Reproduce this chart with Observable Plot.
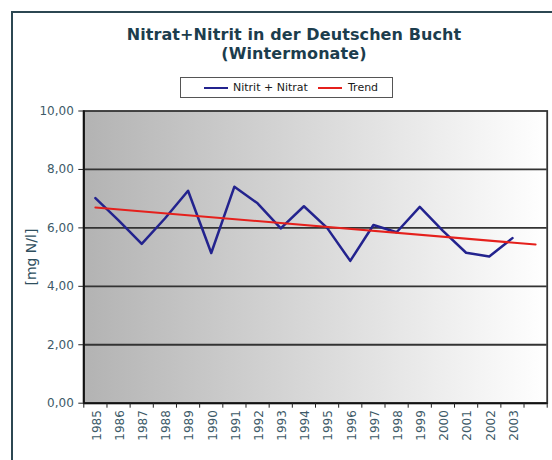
<!DOCTYPE html>
<html><head><meta charset="utf-8">
<script src="https://cdn.jsdelivr.net/npm/d3@7"></script>
<script src="https://cdn.jsdelivr.net/npm/@observablehq/plot@0.6"></script>
<style>
body{margin:0;background:#fff;}
#wrap{position:relative;width:552px;height:460px;overflow:hidden;font-family:"DejaVu Sans",sans-serif;}
#frame{position:absolute;left:11px;top:11px;width:600px;height:500px;border-left:2px solid #2c4752;border-top:2px solid #2c4752;}
.title{position:absolute;left:94px;width:400px;text-align:center;font-weight:bold;font-size:16px;line-height:18.6px;height:18.6px;color:#1c3d4d;letter-spacing:0.1px;white-space:nowrap;}
#legend{position:absolute;left:180px;top:77px;width:213px;height:21px;box-sizing:border-box;border:1px solid #555;background:#fff;font-size:11px;color:#1a1a1a;}
#legend .sw{position:absolute;top:9px;width:24px;height:2px;}
#legend .lb{position:absolute;top:3px;line-height:13px;white-space:nowrap;}
#chart{position:absolute;left:0;top:100px;}
</style>
</head><body>
<div id="wrap">
  <div id="frame"></div>
  <div id="t1" class="title" style="top:26.2px"></div>
  <div id="t2" class="title" style="top:44.8px"></div>
  <div id="legend"></div>
  <div id="chart"></div>
</div>
<script>
const titleText = ["Nitrat+Nitrit in der Deutschen Bucht", "(Wintermonate)"];
const seriesNames = ["Nitrit + Nitrat", "Trend"];
const seriesColors = ["#23238e", "#e5201c"];
const years = [1985,1986,1987,1988,1989,1990,1991,1992,1993,1994,1995,1996,1997,1998,1999,2000,2001,2002,2003];
const values = [7.02,6.26,5.45,6.32,7.27,5.14,7.41,6.84,5.98,6.74,6.00,4.87,6.10,5.85,6.72,5.90,5.15,5.02,5.65];
const trendYears = [1985, 2004];
const trendValues = [6.70, 5.43];
const yTicks = [0,2,4,6,8,10];
const gridValues = [2,4,6,8];
const yLabel = "[mg N/l]";

document.getElementById("t1").textContent = titleText[0];
document.getElementById("t2").textContent = titleText[1];

// legend
const leg = document.getElementById("legend");
const legPos = [[23,52],[137,167]];
seriesNames.forEach((n,i)=>{
  const s = document.createElement("span"); s.className="sw";
  s.style.left = legPos[i][0]+"px"; s.style.background = seriesColors[i];
  leg.appendChild(s);
  const t = document.createElement("span"); t.className="lb";
  t.style.left = legPos[i][1]+"px"; t.textContent = n;
  leg.appendChild(t);
});

const fmt = d => d.toFixed(2).replace(".", ",");
const boundaries = d3.range(years[0]-0.5, trendYears[1]+0.51, 1);

const svg = Plot.plot({
  width: 552, height: 360,
  marginLeft: 83.3, marginRight: 5.3, marginTop: 10.5, marginBottom: 57.3,
  style: {fontFamily: "DejaVu Sans, sans-serif", fontSize: "12px", color: "#3d5a68", background: "transparent", overflow: "visible"},
  x: {type: "linear", domain: [boundaries[0], boundaries[boundaries.length-1]]},
  y: {domain: [0, 10]},
  marks: [
    Plot.frame({fill: "url(#bgGrad)", stroke: null}),
    Plot.ruleY(gridValues, {stroke: "#333", strokeWidth: 1.8}),
    Plot.frame({stroke: "#333", strokeWidth: 1.8}),
    Plot.ruleX([boundaries[0]], {stroke: "#111", strokeWidth: 2}),
    Plot.ruleY([0], {stroke: "#111", strokeWidth: 2}),
    Plot.axisY(yTicks, {tickFormat: fmt, tickSize: 5, tickPadding: 5, stroke: "#222", fill: "#3d5a68", label: null}),
    Plot.axisY({ticks: [], tickSize: 0, label: yLabel, labelAnchor: "center", labelArrow: "none", labelOffset: 58, fontSize: 14, fill: "#2f4f5e"}),
    Plot.axisX(boundaries, {tickSize: 5, tickFormat: () => "", stroke: "#222", label: null}),
    Plot.axisX(years, {tickSize: 0, tickPadding: 7, tickRotate: -90, tickFormat: d => String(d), fill: "#3d5a68", label: null, dx: 1.5}),
    Plot.line(years, {x: d => d, y: (d, i) => values[i], stroke: seriesColors[0], strokeWidth: 2.5}),
    Plot.line(trendYears, {x: d => d, y: (d, i) => trendValues[i], stroke: seriesColors[1], strokeWidth: 2})
  ]
});
const defs = d3.select(svg).insert("defs", ":first-child");
const g = defs.append("linearGradient").attr("id", "bgGrad").attr("x1", "0").attr("x2", "1").attr("y1", "0").attr("y2", "0");
g.append("stop").attr("offset", "0").attr("stop-color", "#b3b3b3");
g.append("stop").attr("offset", "1").attr("stop-color", "#ffffff");
document.getElementById("chart").appendChild(svg);
</script>
</body></html>
